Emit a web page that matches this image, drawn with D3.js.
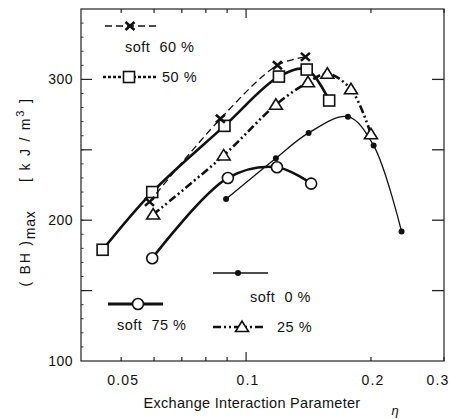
<!DOCTYPE html>
<html>
<head>
<meta charset="utf-8">
<script src="https://cdn.jsdelivr.net/npm/d3@7"></script>
<style>
  body { margin: 0; background: #fff; }
  text { font-family: "Liberation Sans", Arial, sans-serif; fill: #111; }
</style>
</head>
<body>
<div id="chart"></div>
<script>
// soft phase fraction series, eta (x) and (BH)max in kJ/m3 (y)
const eta60 = [0.0585, 0.0867, 0.119, 0.139]
const bh60 = [213, 272, 310, 316]
const eta50 = [0.0451, 0.0594, 0.0887, 0.120, 0.140, 0.1586]
const bh50 = [179, 220, 267, 302, 307, 285]
const eta25 = [0.0597, 0.0883, 0.118, 0.141, 0.157, 0.179, 0.200]
const bh25 = [204, 246, 282, 298, 304, 293, 261]
const eta0 = [0.0895, 0.118, 0.1415, 0.176, 0.203, 0.237]
const bh0 = [215, 244, 262, 273.5, 253, 192]
const eta75 = [0.0594, 0.0904, 0.1187, 0.1435]
const bh75 = [173, 230, 237.6, 226]

const xTickLabels = [0.05, 0.1, 0.2, 0.3]
const xMinorTicks = [0.05, 0.06, 0.07, 0.08, 0.09, 0.2, 0.3]
const yTickLabels = [100, 200, 300]

const W = 456, H = 419
const plotL = 81, plotR = 444, plotT = 9, plotB = 361

const svg = d3.select('#chart').append('svg')
    .attr('width', W)
    .attr('height', H)

const x = d3.scaleLog().domain([0.04, 0.3]).range([plotL, plotR])
const y = d3.scaleLinear().domain([100, 350]).range([plotB, plotT])

// frame
svg.append('rect')
    .attr('x', plotL).attr('y', plotT)
    .attr('width', plotR - plotL).attr('height', plotB - plotT)
    .attr('fill', 'none').attr('stroke', '#222').attr('stroke-width', 1.2)

// x ticks, bottom and top, pointing inward
const tickLen = d => d === 0.1 ? 9 : 4
svg.append('g').selectAll('line')
    .data(xMinorTicks.concat([0.1]))
    .enter().append('line')
    .attr('x1', d => x(d)).attr('x2', d => x(d))
    .attr('y1', plotB).attr('y2', d => plotB - tickLen(d))
    .attr('stroke', '#222').attr('stroke-width', 1.2)
svg.append('g').selectAll('line')
    .data(xMinorTicks.concat([0.1]))
    .enter().append('line')
    .attr('x1', d => x(d)).attr('x2', d => x(d))
    .attr('y1', plotT).attr('y2', d => plotT + tickLen(d))
    .attr('stroke', '#222').attr('stroke-width', 1.2)

svg.append('g').selectAll('text')
    .data(xTickLabels)
    .enter().append('text')
    .attr('x', d => Math.min(x(d) + 2, 438))
    .attr('y', 385)
    .attr('text-anchor', 'middle')
    .attr('font-size', 14)
    .attr('letter-spacing', 1.2)
    .text(d => d)

// y ticks, left and right
const yMajor = d3.range(150, 301, 50)
const yMinor = d3.range(110, 350, 10)
svg.append('g').selectAll('line')
    .data(yMinor)
    .enter().append('line')
    .attr('x1', plotL).attr('x2', plotL + 2.5)
    .attr('y1', d => y(d)).attr('y2', d => y(d))
    .attr('stroke', '#333').attr('stroke-width', 1)
svg.append('g').selectAll('line')
    .data(yMajor)
    .enter().append('line')
    .attr('x1', plotL).attr('x2', plotL + 11)
    .attr('y1', d => y(d)).attr('y2', d => y(d))
    .attr('stroke', '#222').attr('stroke-width', 1.2)
svg.append('g').selectAll('line')
    .data(yMajor)
    .enter().append('line')
    .attr('x1', plotR).attr('x2', plotR - 12)
    .attr('y1', d => y(d)).attr('y2', d => y(d))
    .attr('stroke', '#222').attr('stroke-width', 1.3)

svg.append('g').selectAll('text')
    .data(yTickLabels)
    .enter().append('text')
    .attr('x', 73)
    .attr('y', d => y(d) + 5)
    .attr('text-anchor', 'end')
    .attr('font-size', 14)
    .attr('letter-spacing', 0.5)
    .text(d => d)

// axis titles
svg.append('text')
    .attr('x', 252).attr('y', 408)
    .attr('text-anchor', 'middle')
    .attr('font-size', 14.5)
    .attr('letter-spacing', 0.3)
    .text('Exchange Interaction Parameter')
svg.append('text')
    .attr('x', 395).attr('y', 415)
    .attr('text-anchor', 'middle')
    .attr('font-size', 13)
    .attr('font-family', 'DejaVu Serif, serif')
    .attr('font-style', 'italic')
    .text('η')

const yl = svg.append('text')
    .attr('transform', 'translate(30,192) rotate(-90)')
    .attr('text-anchor', 'middle')
    .attr('font-size', 14)
    .attr('letter-spacing', 1.8)
    .style('white-space', 'pre')
yl.append('tspan').text('( BH )')
yl.append('tspan').attr('dy', 5).attr('font-size', 14).attr('letter-spacing', 0.8).text('max')
yl.append('tspan').attr('dy', -5).text('     [ k J / m')
yl.append('tspan').attr('dy', -6).attr('font-size', 11).text('3')
yl.append('tspan').attr('dy', 6).text(' ]')

// curves
const curve = d3.line()
    .x(d => x(d[0]))
    .y(d => y(d[1]))
    .curve(d3.curveCatmullRom.alpha(0.5))

const zip = (a, b) => a.map((v, i) => [v, b[i]])

const series = [
    { pts: zip(eta0, bh0), w: 1.3, dash: null, mark: 'dot' },
    { pts: zip(eta75, bh75), w: 2.6, dash: null, mark: 'circle' },
    { pts: zip(eta25, bh25), w: 2.6, dash: '8,3,2,3,2,3', mark: 'tri' },
    { pts: zip(eta50, bh50), w: 2.6, dash: null, mark: 'square' },
    { pts: zip(eta60, bh60), w: 1.3, dash: '7,4', mark: 'cross' }
]

function drawMark(g, kind, cx, cy) {
    if (kind === 'dot') {
        g.append('circle').attr('cx', cx).attr('cy', cy).attr('r', 3)
            .attr('fill', '#111')
    } else if (kind === 'circle') {
        g.append('circle').attr('cx', cx).attr('cy', cy).attr('r', 5.5)
            .attr('fill', '#fff').attr('stroke', '#111').attr('stroke-width', 1.6)
    } else if (kind === 'square') {
        g.append('rect').attr('x', cx - 5.5).attr('y', cy - 5.5)
            .attr('width', 11).attr('height', 11)
            .attr('fill', '#fff').attr('stroke', '#111').attr('stroke-width', 1.6)
    } else if (kind === 'tri') {
        g.append('path')
            .attr('d', `M${cx - 6.5},${cy + 4.5}L${cx + 6.5},${cy + 4.5}L${cx},${cy - 6}Z`)
            .attr('fill', '#fff').attr('stroke', '#111').attr('stroke-width', 1.6)
    } else if (kind === 'cross') {
        g.append('path')
            .attr('d', `M${cx - 4.5},${cy - 4}L${cx + 4.5},${cy + 4}M${cx - 4.5},${cy + 4}L${cx + 4.5},${cy - 4}`)
            .attr('fill', 'none').attr('stroke', '#111').attr('stroke-width', 2.6)
    }
}

series.forEach(s => {
    svg.append('path')
        .datum(s.pts)
        .attr('fill', 'none')
        .attr('stroke', '#111')
        .attr('stroke-width', s.w)
        .attr('stroke-dasharray', s.dash)
        .attr('d', curve)
    const g = svg.append('g')
    s.pts.forEach(p => drawMark(g, s.mark, x(p[0]), y(p[1])))
})

// legend
const legend = [
    { x1: 105, x2: 157, y: 26, mx: 130, mark: 'cross', w: 1.3, dash: '7,4', label: 'soft  60 %', tx: 125, ty: 52 },
    { x1: 103, x2: 158, y: 77, mx: 129, mark: 'square', w: 2.6, dash: '3,2', label: '50 %', tx: 162, ty: 82 },
    { x1: 213, x2: 268, y: 273, mx: 238, mark: 'dot', w: 1.3, dash: null, label: 'soft  0 %', tx: 250, ty: 302 },
    { x1: 108, x2: 163, y: 304, mx: 138, mark: 'circle', w: 3, dash: null, label: 'soft  75 %', tx: 117, ty: 330 },
    { x1: 213, x2: 265, y: 327, mx: 242, mark: 'tri', w: 2.6, dash: '8,3,2,3,2,3', label: '25 %', tx: 277, ty: 332 }
]
legend.forEach(l => {
    svg.append('line')
        .attr('x1', l.x1).attr('x2', l.x2)
        .attr('y1', l.y).attr('y2', l.y)
        .attr('stroke', '#111').attr('stroke-width', l.w)
        .attr('stroke-dasharray', l.dash)
    drawMark(svg.append('g'), l.mark, l.mx, l.y)
    svg.append('text')
        .attr('x', l.tx).attr('y', l.ty)
        .attr('font-size', 14.5)
        .attr('letter-spacing', 0.5)
        .style('white-space', 'pre')
        .text(l.label)
})
</script>
</body>
</html>
